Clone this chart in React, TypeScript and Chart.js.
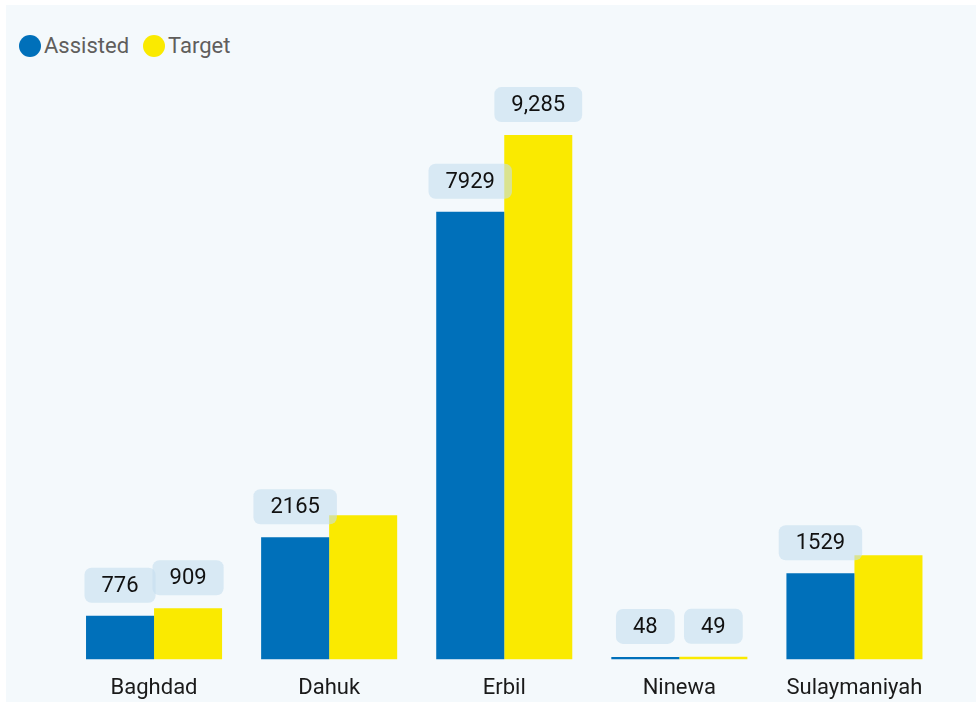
import React, { useEffect, useRef } from "react";
import { Chart, registerables } from "chart.js";

Chart.register(...registerables);

const categories = ["Baghdad", "Dahuk", "Erbil", "Ninewa", "Sulaymaniyah"];
const assisted = [776, 2165, 7929, 48, 1529];
const target = [909, 2556, 9285, 49, 1846];
const seriesNames = ["Assisted", "Target"];
const seriesColors = ["#0070BA", "#FAEA00"];

const FONT = "Roboto, 'Noto Sans', sans-serif";

const formatters = [
  (v: number) => String(v),
  (v: number) => v.toLocaleString("en-US"),
];

const labelPlugin = {
  id: "valueLabels",
  afterDatasetsDraw(chart: any) {
    const ctx = chart.ctx as CanvasRenderingContext2D;
    ctx.save();
    ctx.font = `22px ${FONT}`;
    const drawn: { x: number; y: number; w: number; h: number }[] = [];
    (chart.data.labels as string[]).forEach((_, i) => {
      chart.data.datasets.forEach((ds: any, di: number) => {
        const el = chart.getDatasetMeta(di).data[i];
        if (!el) return;
        const text = formatters[di](ds.data[i]);
        const w = ctx.measureText(text).width + 34;
        const h = 35;
        const x = el.x - w / 2;
        const y = el.y - 13 - h;
        const overlap = drawn.some(
          (b) =>
            Math.min(b.x + b.w, x + w) - Math.max(b.x, x) > 6 &&
            Math.min(b.y + b.h, y + h) - Math.max(b.y, y) > 6
        );
        if (overlap) return;
        drawn.push({ x, y, w, h });
        ctx.fillStyle = "rgba(196, 222, 238, 0.6)";
        ctx.beginPath();
        (ctx as any).roundRect(x, y, w, h, 7);
        ctx.fill();
        ctx.fillStyle = "#111111";
        ctx.textAlign = "center";
        ctx.textBaseline = "middle";
        ctx.fillText(text, el.x, y + h / 2 + 1);
      });
    });
    ctx.restore();
  },
};

export default function App() {
  const canvasRef = useRef<HTMLCanvasElement | null>(null);

  useEffect(() => {
    document.body.style.margin = "0";
    const canvas = canvasRef.current;
    if (!canvas) return;
    const chart = new Chart(canvas, {
      type: "bar",
      data: {
        labels: categories,
        datasets: [
          {
            label: seriesNames[0],
            data: assisted,
            backgroundColor: seriesColors[0],
            barPercentage: 1,
            categoryPercentage: 0.777,
          },
          {
            label: seriesNames[1],
            data: target,
            backgroundColor: seriesColors[1],
            barPercentage: 1,
            categoryPercentage: 0.777,
          },
        ],
      },
      options: {
        responsive: false,
        animation: false,
        layout: { padding: { top: 89.7, bottom: 4, left: 60.5, right: 34 } },
        plugins: {
          legend: { display: false },
          tooltip: { enabled: false },
        },
        scales: {
          x: {
            grid: { display: false, drawTicks: false },
            border: { display: false },
            ticks: {
              color: "#1a1a1a",
              padding: 16,
              font: { family: FONT, size: 22 },
            },
          },
          y: {
            display: false,
            min: 0,
            max: 10000,
          },
        },
      },
      plugins: [labelPlugin],
    });
    return () => chart.destroy();
  }, []);

  const legendItem = (name: string, color: string, ml: number) => (
    <div style={{ display: "flex", alignItems: "center", marginLeft: ml }}>
      <div
        style={{
          width: 22,
          height: 22,
          borderRadius: "50%",
          background: color,
        }}
      />
      <span style={{ marginLeft: 3, color: "#605E5C", fontSize: 22, lineHeight: "26px" }}>{name}</span>
    </div>
  );

  return (
    <div
      style={{
        position: "absolute",
        left: 6,
        top: 5,
        width: 970,
        height: 697,
        background: "#F4F9FC",
        fontFamily: FONT,
        overflow: "hidden",
      }}
    >
      <div
        style={{
          position: "absolute",
          left: 13,
          top: 28,
          display: "flex",
          alignItems: "center",
        }}
      >
        {legendItem(seriesNames[0], seriesColors[0], 0)}
        {legendItem(seriesNames[1], seriesColors[1], 14)}
      </div>
      <canvas
        ref={canvasRef}
        width={970}
        height={717}
        style={{ position: "absolute", left: 0, top: 0, width: 970, height: 717 }}
      />
    </div>
  );
}
